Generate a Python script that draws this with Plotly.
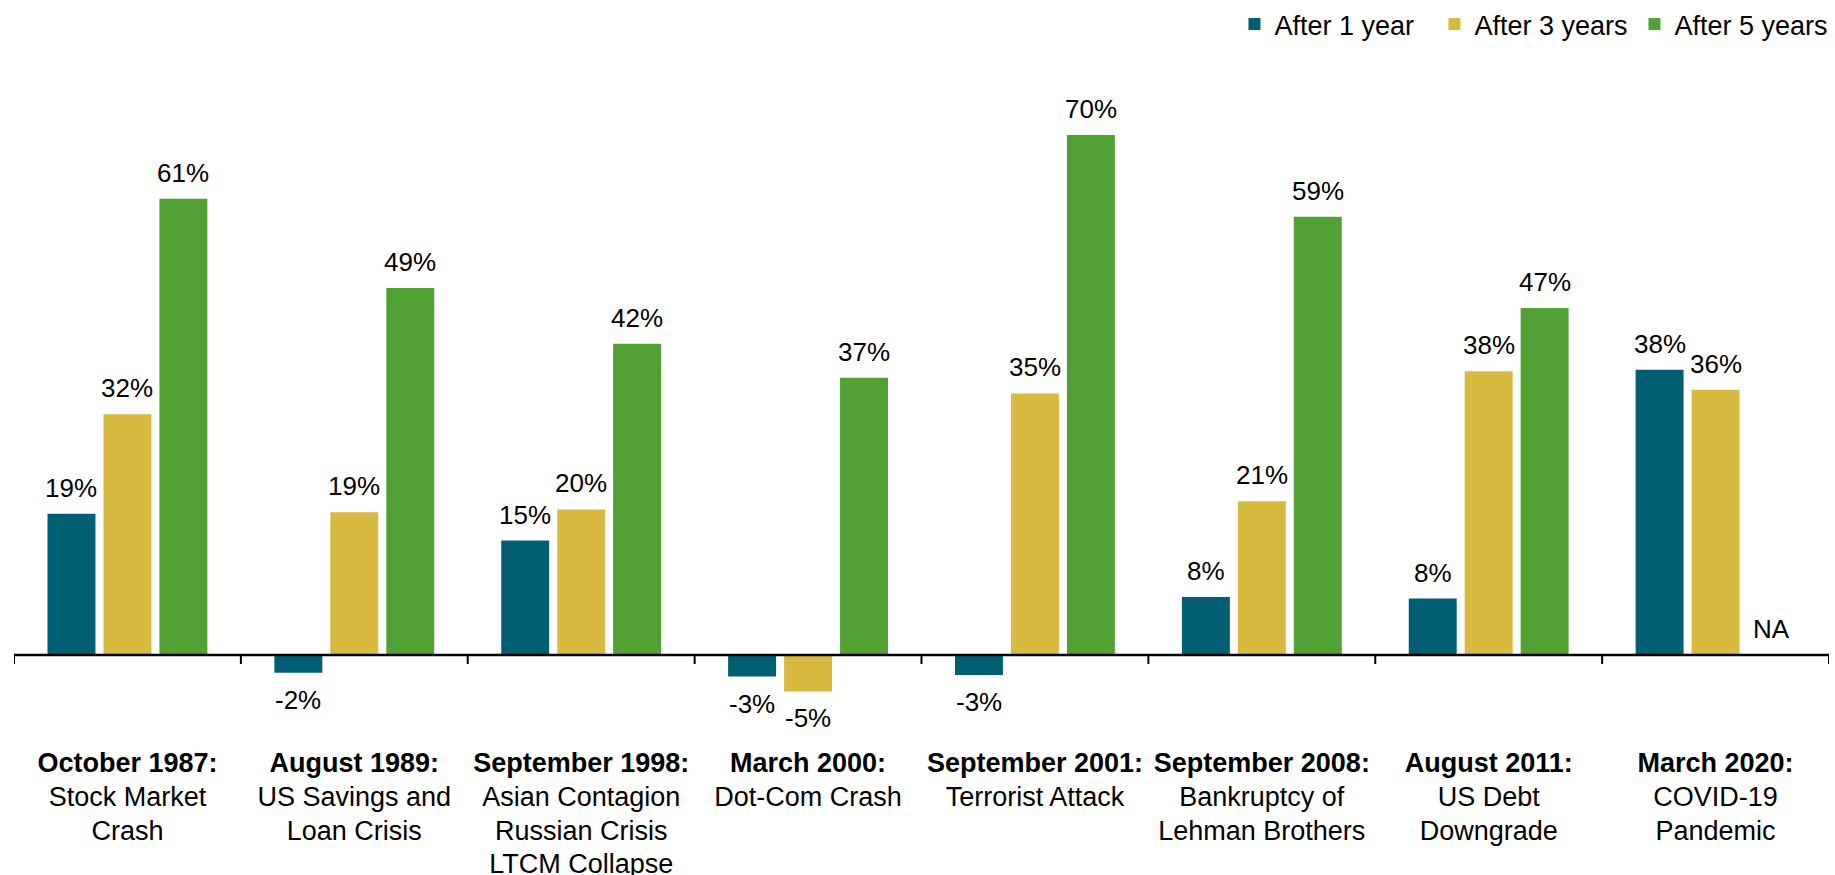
import plotly.graph_objects as go

events = ["October 1987", "August 1989", "September 1998", "March 2000",
          "September 2001", "September 2008", "August 2011", "March 2020"]
event_desc = ["Stock Market<br>Crash", "US Savings and<br>Loan Crisis",
              "Asian Contagion<br>Russian Crisis<br>LTCM Collapse", "Dot-Com Crash",
              "Terrorist Attack", "Bankruptcy of<br>Lehman Brothers",
              "US Debt<br>Downgrade", "COVID-19<br>Pandemic"]
after_1y = [19.0, -2.4, 15.4, -2.9, -2.7, 7.8, 7.6, 38.4]
after_3y = [32.4, 19.2, 19.6, -4.9, 35.2, 20.7, 38.2, 35.7]
after_5y = [61.4, 49.4, 41.9, 37.3, 70.0, 59.0, 46.7, None]
series_names = ["After 1 year", "After 3 years", "After 5 years"]
colors = ["#005F73", "#D9BA41", "#52A135"]

FONT = "Liberation Sans, Arial, sans-serif"


def styled(line, bold=False):
    inner = f"<b>{line}</b>" if bold else line
    return f"<span style='font-size:27px'>{inner}</span>"


tick_text = ["<br>".join([styled(e + ":", True)] + [styled(p) for p in d.split("<br>")])
             for e, d in zip(events, event_desc)]

fig = go.Figure()
series = [after_1y, after_3y, after_5y]
for name, vals, col in zip(series_names, series, colors):
    fig.add_trace(go.Bar(x=events, y=vals, name=name, marker_color=col,
                         marker_line_width=0))

bargap = 0.26
slot = (1 - bargap) / 3
annotations = []
for j, vals in enumerate(series):
    for i, v in enumerate(vals):
        xpos = i + (j - 1) * slot
        if v is None:
            annotations.append(dict(x=xpos, y=0, xref="x", yref="y", text="NA",
                                    showarrow=False, yanchor="bottom", yshift=9,
                                    font=dict(size=26, color="#000", family=FONT)))
            continue
        txt = f"{v:.0f}%"
        if v >= 0:
            annotations.append(dict(x=xpos, y=v, xref="x", yref="y", text=txt,
                                    showarrow=False, yanchor="bottom", yshift=9,
                                    font=dict(size=26, color="#000", family=FONT)))
        else:
            annotations.append(dict(x=xpos, y=v, xref="x", yref="y", text=txt,
                                    showarrow=False, yanchor="top", yshift=-10,
                                    font=dict(size=26, color="#000", family=FONT)))

shapes = [dict(type="line", xref="x", yref="y", x0=-0.5, x1=len(events) - 0.5,
               y0=0, y1=0, line=dict(color="#000", width=2.5))]
for k in range(len(events) + 1):
    shapes.append(dict(type="line", xref="x", yref="y", ysizemode="pixel", yanchor=0,
                       x0=k - 0.5, x1=k - 0.5, y0=0, y1=-9,
                       line=dict(color="#000", width=2)))

fig.update_layout(
    width=1835, height=875,
    margin=dict(l=14, r=6, t=60, b=130, autoexpand=False),
    paper_bgcolor="white", plot_bgcolor="white",
    barmode="group", bargap=bargap, bargroupgap=0.143,
    font=dict(family=FONT, size=26, color="#000"),
    legend=dict(orientation="h", x=1.003, xanchor="right", y=1, yanchor="top",
                yref="container", font=dict(size=27), traceorder="normal",
                entrywidth=155, itemwidth=30),
    annotations=annotations, shapes=shapes,
    xaxis=dict(tickvals=events, ticktext=tick_text, showline=False, ticks="",
               showgrid=False, zeroline=False, tickfont=dict(size=26),
               automargin=False, range=[-0.5, len(events) - 0.5]),
    yaxis=dict(range=[-12.11, 80.08], visible=False, showgrid=False, zeroline=False,
               automargin=False),
    showlegend=True,
)

fig.write_html("out.html", config={"displayModeBar": False})

with open("out.html", "r", encoding="utf-8") as f:
    html = f.read()
html = html.replace("<head>", "<head><style>html,body{margin:0;padding:0;overflow:hidden;}</style>", 1)
with open("out.html", "w", encoding="utf-8") as f:
    f.write(html)
